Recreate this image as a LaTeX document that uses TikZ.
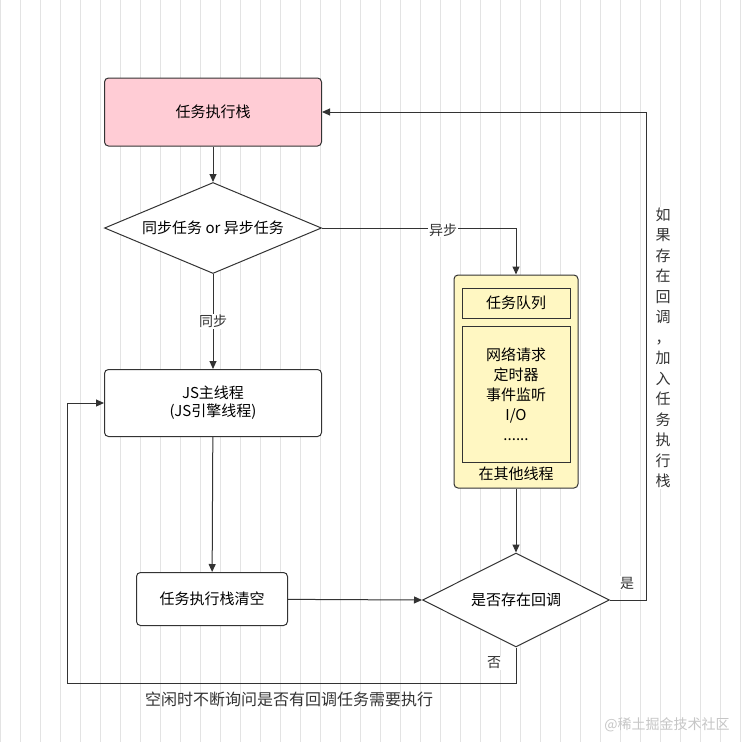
\documentclass[tikz,border=0pt]{standalone}
\usepackage{fontspec}
\setmainfont{Noto Sans CJK SC}
\usetikzlibrary{positioning, arrows.meta, shapes.geometric}
\definecolor{stackCol}{HTML}{FFCCD5}
\definecolor{queueCol}{HTML}{FFF7C2}
\definecolor{lineCol}{HTML}{333333}

\begin{document}
\begin{tikzpicture}[x=1pt, y=-1pt,
    % Node styles
    box/.style={
        rectangle,
        rounded corners=4pt,
        draw=lineCol,
        fill=white,
        line width=1pt,
        font=\fontsize{15}{18}\selectfont,
        align=center
    },
    decision/.style={
        diamond,
        aspect=2.3,
        draw=lineCol,
        fill=white,
        line width=1pt,
        inner sep=0pt,
        font=\fontsize{15}{18}\selectfont,
        align=center
    },
    arrow/.style={
        -{Triangle[length=8pt, width=7pt]},
        line width=1pt,
        draw=lineCol
    },
    lbl/.style={
        font=\fontsize{14}{17}\selectfont,
        text=lineCol,
        fill=white,
        inner sep=1pt
    }
]
    \useasboundingbox (0,0) rectangle (742,742);
    \fill[white] (0,0) rectangle (742,742);
    \draw[gray!22, step=20] (0,0) grid (742,742);

    % ==== MAIN COLUMN ====
    \node[box, fill=stackCol, minimum width=217, minimum height=68] (stack) at (213,112) {任务执行栈};
    \node[decision, minimum width=217, minimum height=91] (sync) at (213,228) {同步任务 or 异步任务};
    \node[box, minimum width=217, minimum height=67] (main) at (213,403) {JS主线程\\(JS引擎线程)};
    \node[box, minimum width=151, minimum height=53] (clear) at (212,599) {任务执行栈清空};
    \node[decision, minimum width=187, minimum height=94] (check) at (516,600) {是否存在回调};

    % ==== TASK QUEUE ====
    \node[box, fill=queueCol, minimum width=124, minimum height=213] (queue) at (516,381.5) {};
    \node[draw=lineCol, line width=1pt, minimum width=108, minimum height=30,
          font=\fontsize{15}{18}\selectfont] (qtitle) at (516,303) {任务队列};
    \node[draw=lineCol, line width=1pt, minimum width=108, minimum height=136,
          font=\fontsize{15}{20}\selectfont, align=center] (qlist) at (516,394)
          {网络请求\\定时器\\事件监听\\I/O\\......};
    \node[font=\fontsize{15}{18}\selectfont] (qnote) at (516,474) {在其他线程};

    % ==== CONNECTORS ====
    \coordinate (asyncbend) at (516,228);
    \coordinate (yesbend) at (646,600);
    \coordinate (yestop) at (646,112);
    \coordinate (nobend) at (516,683);
    \coordinate (noleft) at (67,683);
    \coordinate (noup) at (67,403);

    \draw[arrow] (stack) -- (sync);
    \draw[arrow] (sync) -- node[lbl] {同步} (main);
    \draw[arrow] (sync.east) -- (asyncbend) -- (queue.north);
    \node[lbl] at (443,230) {异步};
    \draw[arrow] (queue.south) -- (check.north);
    \draw[arrow] (main) -- (clear);
    \draw[arrow] (clear) -- (check.west);
    \draw[arrow] (check.east) -- (yesbend) -- (yestop) -- (stack.east);
    \node[lbl] at (627,583) {是};
    \node[lbl, align=center, font=\fontsize{15}{20.5}\selectfont] at (663,348)
        {如\\果\\存\\在\\回\\调\\，\\加\\入\\任\\务\\执\\行\\栈};
    \draw[arrow] (check.south) -- (nobend) -- (noleft) -- (noup) -- (main.west);
    \node[lbl] at (494,663) {否};
    \node[font=\fontsize{16}{19}\selectfont, text=lineCol] at (289,699) {空闲时不断询问是否有回调任务需要执行};
    \node[font=\fontsize{14}{17}\selectfont, text=gray!45] at (667,725) {@稀土掘金技术社区};
\end{tikzpicture}
\end{document}
